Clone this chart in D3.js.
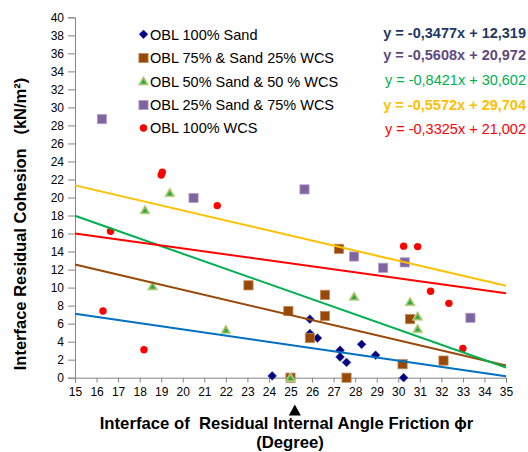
<!DOCTYPE html>
<html>
<head>
<meta charset="utf-8">
<script src="https://cdn.jsdelivr.net/npm/d3@7"></script>
<style>
  html, body { margin: 0; padding: 0; background: #fff; }
  svg { display: block; font-family: Arial, "Liberation Sans", sans-serif; }
</style>
</head>
<body>
<svg id="chart" width="528" height="452"></svg>
<script>
// Residual friction angle (degree) and residual cohesion (kN/m²) per mixture
const sand100X = [24.15, 25.9, 25.9, 26.25, 27.3, 27.3, 27.6, 28.3, 28.95, 30.25];
const sand100Y = [0.2, 6.5, 4.9, 4.4, 3.05, 2.3, 1.7, 3.7, 2.5, 0];

const wcs25X = [23.05, 24.9, 25.0, 25.9, 26.6, 26.6, 27.25, 27.6, 30.2, 30.55, 32.1];
const wcs25Y = [10.25, 7.4, 0, 4.4, 9.2, 6.85, 14.3, 0, 1.5, 6.5, 1.9];

const wcs50X = [18.25, 18.6, 19.4, 22.0, 25.0, 27.95, 30.55, 30.9, 30.9];
const wcs50Y = [18.6, 10.15, 20.5, 5.3, 0, 9.0, 8.4, 6.8, 5.4];

const wcs75X = [16.25, 20.5, 25.65, 27.95, 29.3, 30.3, 33.35];
const wcs75Y = [28.7, 19.95, 20.9, 13.45, 12.2, 12.8, 6.65];

const wcs100X = [16.3, 16.65, 18.2, 19.0, 19.05, 21.6, 30.25, 30.9, 31.5, 32.35, 33.0];
const wcs100Y = [7.4, 16.25, 3.1, 22.5, 22.8, 19.1, 14.6, 14.55, 9.6, 8.25, 3.25];

const seriesNames = [
  "OBL 100% Sand",
  "OBL 75% & Sand 25% WCS",
  "OBL 50% Sand & 50 % WCS",
  "OBL 25% Sand & 75% WCS",
  "OBL 100% WCS"
];

// Linear trend lines y = slope * x + intercept
const trendSlopes = [-0.3477, -0.5608, -0.8421, -0.5572, -0.3325];
const trendIntercepts = [12.319, 20.972, 30.602, 29.704, 21.002];
const trendLabels = [
  "y = -0,3477x + 12,319",
  "y = -0,5608x + 20,972",
  "y = -0,8421x + 30,602",
  "y = -0,5572x + 29,704",
  "y = -0,3325x + 21,002"
];

const xTicks = d3.range(15, 36, 1);
const yTicks = d3.range(0, 41, 2);

const margin = { left: 75, right: 22, top: 17.3, bottom: 74.3 };
const W = 528, H = 452;

const svg = d3.select("#chart");
const x = d3.scaleLinear().domain([15, 35]).range([margin.left, W - margin.right]);
const y = d3.scaleLinear().domain([0, 40]).range([H - margin.bottom, margin.top]);

const axisColor = "#868686";

// axes
const gx = svg.append("g")
  .attr("transform", `translate(0,${y(0)})`)
  .call(d3.axisBottom(x).tickValues(xTicks).tickSize(5).tickPadding(5).tickFormat(d3.format("d")));
const gy = svg.append("g")
  .attr("transform", `translate(${x(15)},0)`)
  .call(d3.axisLeft(y).tickValues(yTicks).tickSize(7).tickPadding(4).tickFormat(d3.format("d")));
[gx, gy].forEach(g => {
  g.select(".domain").attr("stroke", axisColor).attr("stroke-width", 1);
  g.selectAll(".tick line").attr("stroke", axisColor);
  g.selectAll(".tick text").attr("fill", "#000").style("font-size", "12px")
    .style("font-family", "Arial, 'Liberation Sans', sans-serif");
});

// marker drawers
const plot = svg.append("g");

function diamond(g, cx, cy) {
  g.append("path")
    .attr("d", `M${cx},${cy - 4.4} L${cx + 4.4},${cy} L${cx},${cy + 4.4} L${cx - 4.4},${cy} Z`)
    .attr("fill", "#000080").attr("stroke", "#3a3a9a").attr("stroke-width", 0.6);
}
function squareBrown(g, cx, cy) {
  g.append("rect").attr("x", cx - 4.6).attr("y", cy - 4.6).attr("width", 9.2).attr("height", 9.2)
    .attr("fill", "#984807").attr("stroke", "#c08a5c").attr("stroke-width", 0.8);
}
function triangle(g, cx, cy) {
  g.append("path")
    .attr("d", `M${cx},${cy - 5.2} L${cx + 5.2},${cy + 3.8} L${cx - 5.2},${cy + 3.8} Z`)
    .attr("fill", "#9BBB59").attr("stroke", "#c5dca0").attr("stroke-width", 0.8);
  g.append("path")
    .attr("d", `M${cx},${cy - 1.8} L${cx + 2.4},${cy + 2.3} L${cx - 2.4},${cy + 2.3} Z`)
    .attr("fill", "#1fa84a");
}
function squarePurple(g, cx, cy) {
  g.append("rect").attr("x", cx - 4.6).attr("y", cy - 4.6).attr("width", 9.2).attr("height", 9.2)
    .attr("fill", "#8064A2").attr("stroke", "#b3a2c8").attr("stroke-width", 0.8);
}
function circle(g, cx, cy) {
  g.append("circle").attr("cx", cx).attr("cy", cy).attr("r", 3.7).attr("fill", "#FF0000");
}

const seriesX = [sand100X, wcs25X, wcs50X, wcs75X, wcs100X];
const seriesY = [sand100Y, wcs25Y, wcs50Y, wcs75Y, wcs100Y];
const drawers = [diamond, squareBrown, triangle, squarePurple, circle];

seriesX.forEach((xs, i) => {
  const g = plot.append("g");
  xs.forEach((v, j) => drawers[i](g, x(v), y(seriesY[i][j])));
});

// trend lines over the markers
const lineColors = ["#0070C0", "#984807", "#00B050", "#FFC000", "#FF0000"];
const line = d3.line().x(d => x(d[0])).y(d => y(d[1]));
trendSlopes.forEach((m, i) => {
  const b = trendIntercepts[i];
  const pts = [15, 35].map(v => [v, m * v + b]);
  plot.append("path").attr("d", line(pts))
    .attr("fill", "none").attr("stroke", lineColors[i]).attr("stroke-width", 2);
});

// legend
const legend = svg.append("g");
const legendRows = [34.3, 58, 81.3, 105, 128];
seriesNames.forEach((name, i) => {
  const ly = legendRows[i];
  drawers[i](legend, 143.5, ly);
  legend.append("text").attr("x", 150).attr("y", ly).attr("dy", "0.36em")
    .style("font-size", "14.5px").attr("fill", "#000").text(name);
});

// trend equations
const eqColors = ["#1F3864", "#604A7B", "#00B050", "#FFC000", "#FF0000"];
const eqBold = [true, true, false, true, false];
const eqRows = [32.3, 54.3, 79.3, 104.3, 128.3];
trendLabels.forEach((t, i) => {
  svg.append("text").attr("x", 526).attr("y", eqRows[i]).attr("dy", "0.36em")
    .attr("text-anchor", "end").attr("fill", eqColors[i])
    .style("font-size", "14.5px").style("font-weight", eqBold[i] ? "bold" : "normal")
    .text(t);
});

// axis titles
svg.append("text")
  .attr("transform", `translate(26,224) rotate(-90)`)
  .attr("text-anchor", "middle").style("font-size", "16.5px").style("font-weight", "bold").attr("fill", "#000")
  .text("Interface Residual Cohesion\u00a0\u00a0\u00a0(kN/m\u00b2)");

svg.append("text").attr("x", 286.5).attr("y", 429).attr("text-anchor", "middle")
  .style("font-size", "16.7px").style("font-weight", "bold").attr("fill", "#000")
  .text("Interface of \u00a0Residual Internal Angle Friction \u03d5r");
svg.append("text").attr("x", 290).attr("y", 448).attr("text-anchor", "middle")
  .style("font-size", "16.7px").style("font-weight", "bold").attr("fill", "#000")
  .text("(Degree)");

// marker arrow under the 25° tick
const ax = x(25.2);
svg.append("path")
  .attr("d", `M${ax},404.5 L${ax + 6},415.5 L${ax - 6},415.5 Z`)
  .attr("fill", "#000");
</script>
</body>
</html>
